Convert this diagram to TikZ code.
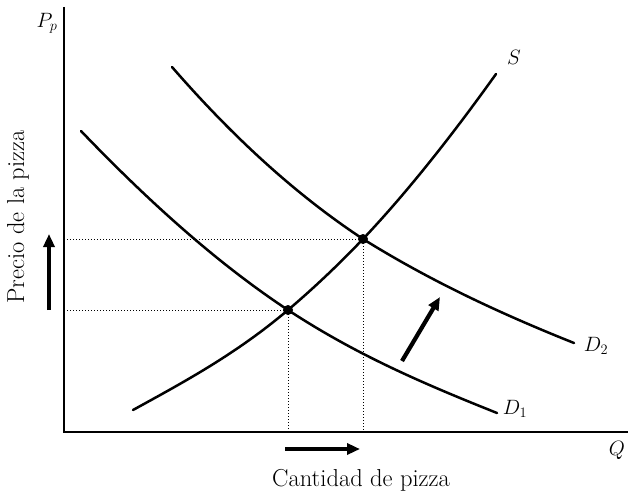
\documentclass[tikz,border=0pt]{standalone}
\usetikzlibrary{arrows.meta}
\begin{document}
\begin{tikzpicture}[x=1pt,y=-1pt,
  curve/.style={line width=2.5pt,line cap=round},
  axisline/.style={line width=1.5pt},
  guide/.style={dotted,line width=1pt},
  shiftarrow/.style={line width=4.2pt,-{Triangle[length=13pt,width=11pt]}},
  lab/.style={font=\fontsize{24.5}{28}\selectfont},
  mathlab/.style={font=\fontsize{22}{25}\selectfont}]
\useasboundingbox (0,0) rectangle (628,495);
% axes
\coordinate (O) at (64,432);
\coordinate (ytop) at (64,7);
\coordinate (xend) at (628,432);
\draw[axisline] (ytop) -- (O) -- (xend);
% equilibrium points
\coordinate (E1) at (288,310);
\coordinate (E2) at (363,239);
\coordinate (E1y) at (64,310);
\coordinate (E2y) at (64,239);
\coordinate (E1x) at (288,432);
\coordinate (E2x) at (363,432);
\draw[guide] (E1y) -- (E1) -- (E1x);
\draw[guide] (E2y) -- (E2) -- (E2x);
% supply
\coordinate (Sa) at (133,410);
\coordinate (Sb) at (496,74);
\draw[curve] (Sa) .. controls (185,381.4) and (236,354) .. (E1)
  .. controls (313,288.75) and (338,265.25) .. (E2)
  .. controls (407,192.5) and (452,135.6) .. (Sb);
% demand 1
\coordinate (D1a) at (81,131);
\coordinate (D1b) at (497,413);
\draw[curve] (D1a) .. controls (150,203) and (219,264.5) .. (E1)
  .. controls (358,356) and (427,385) .. (D1b);
% demand 2
\coordinate (D2a) at (172,67);
\coordinate (D2b) at (574,343);
\draw[curve] (D2a) .. controls (236,140.6) and (299,196.8) .. (E2)
  .. controls (433,282.6) and (504,315) .. (D2b);
\fill (E1) circle (5pt);
\fill (E2) circle (5pt);
% labels
\node[mathlab] (Slab) at (514,57) {$S$};
\node[mathlab] (D2lab) at (596,346) {$D_2$};
\node[mathlab] (D1lab) at (515,409) {$D_1$};
\node[mathlab] (Plab) at (47,23) {$P_p$};
\node[mathlab] (Qlab) at (617,450) {$Q$};
\node[lab] (xlab) at (361,480) {Cantidad de pizza};
\node[lab,rotate=90] (ylab) at (18,217) {Precio de la pizza};
% shift arrows
\coordinate (a1s) at (49,310);
\coordinate (a1e) at (49,234);
\coordinate (a2s) at (285,449);
\coordinate (a2e) at (360,449);
\coordinate (a3s) at (402,361);
\coordinate (a3e) at (440,297);
\draw[shiftarrow] (a1s) -- (a1e);
\draw[shiftarrow] (a2s) -- (a2e);
\draw[shiftarrow] (a3s) -- (a3e);
\end{tikzpicture}
\end{document}
